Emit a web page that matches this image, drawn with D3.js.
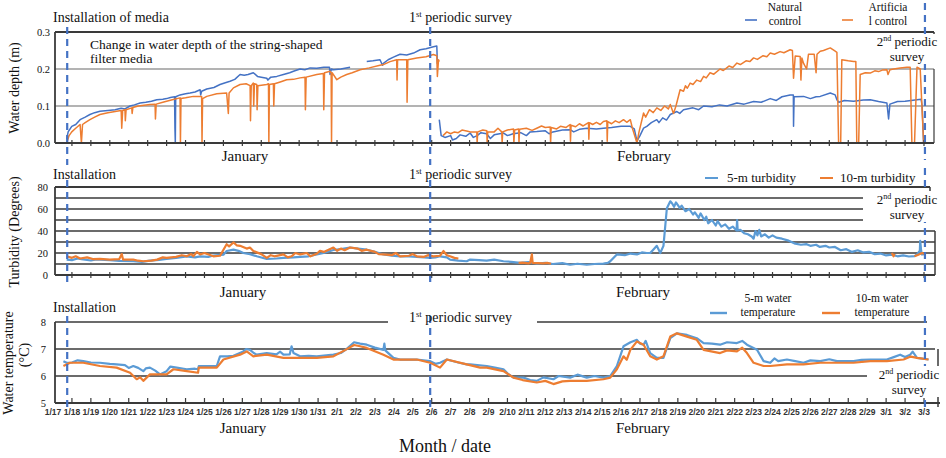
<!DOCTYPE html>
<html><head><meta charset="utf-8">
<script src="https://cdn.jsdelivr.net/npm/d3@7"></script>
<style>
body{margin:0;background:#fff;}
text{font-family:"Liberation Serif","Times New Roman",serif;fill:#111;}
.tk{font-family:"Liberation Sans Narrow","Liberation Sans",Arial,sans-serif;font-size:8.5px;font-weight:bold;fill:#333;}
</style></head>
<body><svg id="c" width="946" height="458"></svg>
<script>
// ---------- DATA ----------
const dateLabels = ["1/17","1/18","1/19","1/20","1/21","1/22","1/23","1/24","1/25","1/26","1/27","1/28","1/29","1/30","1/31",
 "2/1","2/2","2/3","2/4","2/5","2/6","2/7","2/8","2/9","2/10","2/11","2/12","2/13","2/14","2/15","2/16","2/17","2/18","2/19",
 "2/20","2/21","2/22","2/23","2/24","2/25","2/26","2/27","2/28","2/29","3/1","3/2","3/3"];
const surveyDays = [0.75, 19.92, 46.05]; // installation, 1st, 2nd periodic survey (day index from 1/17)

// Water depth (m): [day, value]; null = gap
const depthNatural = [[0.72,0.01],[0.8,0.03],[0.99,0.045],[1.2,0.05],[1.43,0.063],[1.7,0.07],[1.95,0.077],[2.2,0.082],[2.48,0.086],[2.9,0.088],[3.28,0.09],[3.6,0.094],[3.8,0.092],[4.07,0.1],[4.3,0.103],[4.6,0.108],[4.9,0.11],[5.2,0.113],[5.48,0.117],[5.8,0.118],[6.0,0.12],[6.2,0.123],[6.42,0.125],[6.44,0.04],[6.46,0.0],[6.48,0.125],[6.71,0.13],[7.0,0.133],[7.24,0.135],[7.5,0.138],[7.77,0.144],[7.8,0.13],[7.85,0.14],[8.12,0.146],[8.5,0.15],[8.82,0.158],[9.1,0.163],[9.35,0.167],[9.6,0.172],[9.88,0.185],[10.1,0.183],[10.3,0.185],[10.58,0.19],[10.8,0.18],[11.0,0.178],[11.29,0.175],[11.35,0.17],[11.5,0.178],[11.82,0.18],[12.17,0.185],[12.5,0.19],[12.7,0.194],[13.05,0.2],[13.3,0.198],[13.58,0.203],[13.93,0.202],[14.3,0.205],[14.6,0.205],[14.63,0.185],[14.7,0.2],[14.81,0.198],[15.2,0.2],[15.69,0.205],
 null,[16.57,0.22],[16.9,0.222],[17.27,0.225],[17.4,0.21],[17.45,0.215],[17.7,0.225],[17.98,0.232],[18.33,0.24],[18.68,0.238],[19.04,0.243],[19.39,0.252],[19.7,0.255],[20.09,0.26],[20.27,0.262],[20.3,0.215],[20.36,0.22],
 null,[20.4,0.063],[20.5,0.02],[20.7,0.015],[21.0,0.02],[21.1,0.008],[21.3,0.012],[21.5,0.022],[21.8,0.018],[22.03,0.027],[22.2,0.015],[22.4,0.02],[22.6,0.028],[22.9,0.025],[23.1,0.012],[23.3,0.022],[23.8,0.027],[24.0,0.02],[24.3,0.025],[24.7,0.028],[25.0,0.02],[25.2,0.03],[25.55,0.031],[26.0,0.033],[26.2,0.025],[26.4,0.03],[26.9,0.035],[27.31,0.036],[27.5,0.03],[27.8,0.037],[28.2,0.04],[28.7,0.038],[29.07,0.04],[29.5,0.042],[30.0,0.045],[30.49,0.045],[30.7,0.038],[30.84,0.005],[31.0,0.02],[31.19,0.04],[31.36,0.045],[31.6,0.055],[31.89,0.063],[32.0,0.055],[32.2,0.068],[32.4,0.062],[32.6,0.077],[32.95,0.085],[33.1,0.08],[33.3,0.09],[33.8,0.095],[34.1,0.09],[34.36,0.1],[34.8,0.098],[35.2,0.103],[35.6,0.1],[36.12,0.108],[36.5,0.105],[37.0,0.112],[37.4,0.11],[37.88,0.12],[38.2,0.115],[38.5,0.125],[38.93,0.13],[39.1,0.13],[39.11,0.045],[39.14,0.125],[39.64,0.126],[40.0,0.12],[40.3,0.125],[40.52,0.126],[41.05,0.135],[41.31,0.13],[41.4,0.117],[41.5,0.11],[41.8,0.115],[42.28,0.113],[42.8,0.116],[43.16,0.117],[43.6,0.112],[44.04,0.108],[44.13,0.065],[44.2,0.105],[44.6,0.112],[45.0,0.113],[45.63,0.117],[45.85,0.118],[45.9,0.1],[45.98,0.0]];

const depthArtificial = [[0.72,0.0],[0.85,0.02],[0.99,0.03],[1.2,0.04],[1.43,0.05],[1.5,0.0],[1.56,0.05],[1.7,0.055],[1.95,0.063],[2.2,0.07],[2.48,0.077],[2.9,0.082],[3.36,0.086],[3.6,0.088],[3.63,0.04],[3.68,0.088],[3.8,0.09],[3.82,0.06],[3.86,0.09],[4.16,0.095],[4.18,0.08],[4.22,0.096],[4.5,0.1],[5.12,0.104],[5.39,0.105],[5.41,0.065],[5.45,0.105],[5.8,0.11],[6.0,0.113],[6.3,0.117],[6.71,0.122],[6.73,0.0],[6.76,0.12],[7.0,0.122],[7.41,0.126],[7.85,0.126],[7.87,0.0],[7.9,0.12],[8.12,0.126],[8.65,0.133],[9.17,0.135],[9.26,0.08],[9.3,0.135],[9.53,0.149],[9.88,0.158],[10.2,0.16],[10.41,0.155],[10.43,0.06],[10.47,0.155],[10.58,0.162],[10.6,0.1],[10.64,0.16],[10.76,0.158],[10.78,0.09],[10.82,0.155],[11.29,0.158],[11.38,0.16],[11.4,0.0],[11.43,0.158],[11.64,0.16],[11.66,0.1],[11.7,0.16],[12.0,0.165],[12.34,0.171],[12.7,0.172],[13.05,0.176],[13.31,0.178],[13.33,0.09],[13.37,0.178],[13.93,0.185],[14.28,0.188],[14.3,0.09],[14.34,0.19],[14.63,0.194],[14.69,0.19],[14.71,0.0],[14.74,0.19],[14.99,0.171],[15.2,0.178],[15.51,0.185],[15.8,0.19],[16.22,0.198],[16.7,0.203],[17.27,0.21],[17.45,0.212],[17.8,0.22],[18.15,0.225],[18.17,0.17],[18.2,0.225],[18.68,0.225],[18.7,0.11],[18.74,0.225],[19.21,0.23],[19.7,0.233],[20.09,0.239],[20.27,0.236],[20.3,0.18],[20.36,0.225],[20.4,0.22],
 null,[20.6,0.02],[20.8,0.03],[21.0,0.025],[21.2,0.03],[21.4,0.028],[21.6,0.035],[21.9,0.032],[22.03,0.03],[22.38,0.03],[22.4,0.0],[22.43,0.03],[22.7,0.035],[22.91,0.033],[22.93,0.0],[22.96,0.03],[23.3,0.03],[23.5,0.04],[23.7,0.03],[23.72,0.0],[23.75,0.03],[24.0,0.035],[24.32,0.038],[24.34,0.0],[24.38,0.035],[24.59,0.038],[24.61,0.0],[24.64,0.037],[25.0,0.04],[25.3,0.034],[25.55,0.04],[25.8,0.046],[26.0,0.042],[26.26,0.043],[26.28,0.0],[26.31,0.042],[26.6,0.038],[26.8,0.045],[27.1,0.042],[27.31,0.05],[27.33,0.005],[27.36,0.048],[27.6,0.044],[27.8,0.052],[28.0,0.046],[28.28,0.055],[28.3,0.01],[28.33,0.055],[28.5,0.05],[28.7,0.056],[28.9,0.05],[29.07,0.058],[29.25,0.06],[29.27,0.005],[29.3,0.058],[29.5,0.052],[29.7,0.06],[29.9,0.055],[30.13,0.063],[30.3,0.056],[30.49,0.063],[30.6,0.04],[30.84,0.0],[30.95,0.03],[31.19,0.081],[31.3,0.07],[31.5,0.09],[31.7,0.082],[31.89,0.095],[32.1,0.088],[32.3,0.1],[32.5,0.092],[32.6,0.104],[32.77,0.08],[32.9,0.1],[33.12,0.144],[33.3,0.14],[33.4,0.155],[33.5,0.148],[33.65,0.162],[33.8,0.158],[34.0,0.17],[34.2,0.166],[34.36,0.18],[34.5,0.176],[34.7,0.19],[34.9,0.186],[35.23,0.2],[35.4,0.196],[35.7,0.208],[35.9,0.204],[36.12,0.216],[36.3,0.212],[36.6,0.222],[36.8,0.22],[37.0,0.23],[37.2,0.226],[37.5,0.236],[37.7,0.233],[37.88,0.243],[38.1,0.24],[38.4,0.247],[38.6,0.244],[38.93,0.252],[39.05,0.25],[39.11,0.175],[39.2,0.235],[39.46,0.234],[39.5,0.17],[39.55,0.23],[39.64,0.215],[39.8,0.2],[39.9,0.24],[40.2,0.24],[40.3,0.19],[40.35,0.24],[40.52,0.248],[40.69,0.25],[41.05,0.257],[41.31,0.248],[41.4,0.245],[41.49,0.0],[41.6,0.0],[41.66,0.225],[42.0,0.222],[42.28,0.22],[42.4,0.22],[42.45,0.0],[42.55,0.0],[42.63,0.185],[42.9,0.19],[43.16,0.189],[43.4,0.195],[43.6,0.193],[43.8,0.197],[44.04,0.198],[44.1,0.185],[44.2,0.198],[44.4,0.2],[44.74,0.203],[45.1,0.205],[45.27,0.205],[45.36,0.0],[45.5,0.0],[45.63,0.205],[45.8,0.2],[45.98,0.0]];

// Turbidity (degrees)
const turb5m = [[0.72,14],[1.0,13.5],[1.3,15],[1.5,14.5],[2.0,13.2],[2.3,14.2],[2.48,14],[3.0,13.5],[3.5,12.8],[4.24,12.5],[4.7,12],[5.12,13],[5.6,13.8],[6.0,14.6],[6.5,15.5],[7.06,17],[7.5,16],[7.77,17],[8.2,16.5],[8.47,17.7],[9.0,18.5],[9.17,21.8],[9.53,23],[9.8,22],[10.05,20],[10.4,19],[10.76,17],[11.29,14.6],[11.8,15],[12.17,15.6],[12.7,16],[13.05,16.5],[13.5,17],[13.93,18.7],[14.3,20],[14.81,22.7],[15.2,23.5],[15.69,25],[16.1,24],[16.57,23],[17.0,21],[17.45,18.7],[17.9,17.5],[18.33,17],[18.8,16.8],[19.21,16.5],[19.6,16],[19.92,15.6],[20.2,16],[20.44,17],[20.8,16],[20.97,14],[21.4,13],[21.85,12.5],[22.03,14],[22.5,13.5],[22.9,13],[23.3,14],[23.79,12.5],[24.2,12],[24.67,11],[25.1,11.8],[25.55,10.3],[26.0,11],[26.4,10],[26.9,10.8],[27.31,9.3],[27.7,10.2],[28.19,9.3],[28.6,10],[29.07,10.3],[29.3,11],[29.43,12.5],[29.78,18.7],[30.2,18],[30.5,19.5],[30.84,18.7],[31.1,20.5],[31.36,20],[31.54,20],[31.7,23],[31.89,26.5],[32.07,20],[32.24,26.5],[32.42,60.7],[32.6,67],[32.7,65],[32.8,62],[32.9,66],[33.1,61],[33.2,63],[33.4,58],[33.6,60],[33.8,55],[33.9,57],[34.1,52],[34.2,56],[34.4,50],[34.5,53],[34.6,47],[34.8,50],[35.0,45],[35.1,49],[35.3,44],[35.5,46],[35.7,42],[35.9,44],[36.1,40.5],[36.13,50],[36.16,40.5],[36.3,41],[36.5,38],[36.7,37],[36.9,35],[37.0,33],[37.1,40],[37.2,36],[37.3,41],[37.4,35],[37.6,37],[37.8,34],[38.0,36],[38.2,34],[38.5,33],[38.8,31.5],[39.0,30],[39.2,28.5],[39.5,27.5],[39.8,28],[40.0,26.5],[40.3,27.5],[40.5,25.5],[40.8,26.5],[41.0,25],[41.3,25.5],[41.6,22.5],[41.9,23.5],[42.2,21],[42.5,22.5],[42.8,20.5],[43.1,21],[43.4,19],[43.7,19.5],[44.0,17.8],[44.3,18.5],[44.6,17],[44.9,17.8],[45.2,16.8],[45.5,17.2],[45.63,18.7],[45.78,22],[45.8,31],[45.85,22],[45.89,18.7],[46.06,19]];
const turb10m = [[0.72,17],[1.0,15.6],[1.2,17],[1.43,15],[1.8,16],[2.1,14.5],[2.48,14.6],[3.0,14],[3.5,14.5],[3.63,19],[3.7,14],[4.24,14],[4.5,13],[4.77,12.5],[5.2,13],[5.5,14],[5.8,16],[6.0,15.6],[6.5,16.5],[6.8,18],[7.06,17],[7.3,19],[7.41,17],[7.6,21],[7.77,18.7],[8.0,20],[8.47,17],[8.82,17.5],[9.17,28],[9.3,26],[9.53,29.6],[9.7,27],[9.88,26.5],[10.23,24],[10.4,25],[10.58,21.8],[11.0,19],[11.29,15.6],[11.5,18],[11.7,17],[12.17,18.7],[12.4,16],[12.6,17],[12.8,20],[13.05,18.7],[13.4,20],[13.6,17],[13.93,19.3],[14.1,22],[14.3,21],[14.81,25],[15.0,22],[15.2,24],[15.4,22.5],[15.69,25],[16.1,24],[16.3,22],[16.57,23],[17.0,21],[17.2,19],[17.45,18.7],[17.9,18],[18.1,20],[18.33,17],[18.8,17.5],[19.0,19],[19.21,17],[19.6,16.5],[19.8,18],[20.09,17],[20.44,17.5],[20.62,21.8],[20.8,18],[20.97,17],[21.2,15.6],[21.41,15],
 null,[24.59,11],[24.8,11.2],[25.1,10.5],[25.2,11],[25.29,18.7],[25.33,11],[25.6,10.8],[25.9,10.5],[26.1,11],[26.3,10.2],
 null,[44.3,20],[44.39,17],[44.45,19],
 null,[45.5,17],[45.7,18.5],[45.9,20],[46.06,19]];

// Water temperature (°C)
const temp5m = [[0.55,6.55],[0.72,6.49],[1.0,6.5],[1.3,6.58],[1.6,6.55],[2.0,6.5],[2.48,6.49],[3.0,6.45],[3.36,6.43],[3.8,6.4],[4.0,6.3],[4.24,6.37],[4.5,6.3],[4.77,6.18],[4.9,6.28],[5.12,6.31],[5.4,6.2],[5.65,6.06],[6.0,6.18],[6.2,6.35],[6.53,6.31],[7.06,6.25],[7.5,6.27],[7.66,6.25],[7.7,6.37],[8.3,6.37],[8.65,6.37],[8.82,6.73],[9.2,6.73],[9.53,6.75],[10.05,6.91],[10.2,7.0],[10.41,6.97],[10.6,6.85],[10.76,6.79],[11.29,6.85],[11.8,6.8],[12.0,6.9],[12.17,6.79],[12.5,6.8],[12.6,7.1],[12.7,6.85],[13.05,6.73],[13.5,6.75],[13.93,6.73],[14.81,6.79],[15.2,6.85],[15.5,7.0],[15.9,7.25],[16.22,7.2],[16.57,7.16],[17.0,7.05],[17.45,6.97],[17.5,7.2],[17.55,6.95],[17.98,6.67],[18.33,6.61],[19.21,6.61],[19.92,6.55],[20.2,6.45],[20.44,6.49],[20.8,6.61],[21.4,6.5],[21.85,6.43],[22.03,6.43],[22.91,6.37],[23.4,6.3],[23.79,6.25],[24.0,6.1],[24.32,5.94],[24.85,5.94],[25.2,5.85],[25.55,5.82],[25.9,5.95],[26.43,5.88],[26.7,6.0],[27.31,5.94],[27.7,6.05],[28.19,5.94],[28.6,6.0],[29.07,5.94],[29.43,6.0],[29.78,6.37],[30.13,7.1],[30.5,7.25],[30.84,7.34],[31.0,7.2],[31.19,7.16],[31.3,7.3],[31.54,6.85],[31.89,6.67],[32.24,6.67],[32.6,7.4],[32.95,7.58],[33.48,7.52],[34.0,7.4],[34.36,7.22],[34.8,7.2],[35.23,7.16],[35.6,7.25],[36.12,7.22],[36.4,7.3],[36.65,7.16],[37.18,6.97],[37.53,6.55],[37.88,6.49],[38.1,6.65],[38.3,6.55],[38.76,6.61],[39.2,6.55],[39.64,6.49],[40.0,6.58],[40.52,6.55],[41.0,6.62],[41.4,6.55],[42.28,6.55],[42.7,6.6],[43.16,6.61],[44.04,6.61],[44.4,6.7],[44.74,6.79],[45.0,6.7],[45.27,6.79],[45.4,6.9],[45.63,6.67],[46.24,6.61]];
const temp10m = [[0.55,6.37],[0.9,6.49],[1.6,6.49],[2.48,6.37],[3.36,6.31],[4.07,6.12],[4.42,5.88],[4.6,5.95],[4.77,5.82],[5.12,6.06],[6.0,6.06],[6.36,6.25],[7.06,6.18],[7.66,6.12],[7.7,6.31],[8.65,6.31],[9.0,6.61],[9.88,6.79],[10.23,6.91],[10.58,6.73],[11.29,6.79],[12.17,6.67],[13.05,6.67],[13.93,6.67],[14.81,6.73],[15.4,6.95],[15.9,7.15],[16.22,7.1],[16.57,7.04],[17.45,6.79],[17.98,6.61],[19.21,6.61],[19.92,6.49],[20.44,6.31],[20.8,6.61],[21.85,6.43],[22.56,6.31],[22.91,6.31],[23.79,6.18],[24.32,5.94],[24.8,5.85],[25.55,5.76],[26.0,5.82],[26.43,5.7],[26.9,5.8],[27.31,5.82],[28.19,5.82],[29.07,5.88],[29.43,5.94],[29.78,6.25],[30.13,6.73],[30.3,6.6],[30.49,6.97],[30.84,7.28],[31.19,7.16],[31.54,6.73],[31.89,6.61],[32.24,6.73],[32.6,7.46],[32.95,7.58],[33.48,7.46],[34.0,7.34],[34.36,6.97],[35.23,6.85],[35.6,6.95],[36.12,6.91],[36.4,7.05],[36.65,6.85],[37.0,6.49],[37.53,6.37],[37.88,6.37],[38.76,6.43],[39.64,6.43],[40.52,6.49],[41.4,6.49],[42.28,6.49],[43.16,6.55],[44.04,6.55],[44.92,6.61],[45.3,6.72],[45.63,6.67],[46.24,6.61]];

const depthTicks = [0,0.1,0.2,0.3];
const turbTicks = [0,20,40,60,80];
const tempTicks = [5,6,7,8];

// ---------- DRAW ----------
const svg = d3.select("#c");
const x = d3.scaleLinear().domain([0,46]).range([53,924]);
const dark = "#3a3a3a", grey = "#9a9a9a";
const cBlueDark = "#4472C4", cBlue = "#5B9BD5", cOrange = "#ED7D31";
const L = 55;

function hline(y, x1, x2, col, w){ svg.append("line").attr("x1",x1).attr("x2",x2).attr("y1",y).attr("y2",y).attr("stroke",col).attr("stroke-width",w); }
function vline(xx, y1, y2, col, w){ svg.append("line").attr("x1",xx).attr("x2",xx).attr("y1",y1).attr("y2",y2).attr("stroke",col).attr("stroke-width",w); }
function txt(s, xx, yy, size, anchor){ return svg.append("text").attr("x",xx).attr("y",yy).attr("font-size",size).attr("text-anchor",anchor||"start").text(s); }
function supText(parts, xx, yy, size, anchor){
  const t = svg.append("text").attr("x",xx).attr("y",yy).attr("font-size",size).attr("text-anchor",anchor||"start");
  t.append("tspan").text(parts[0]);
  t.append("tspan").attr("font-size",size*0.62).attr("dy",-size*0.38).text(parts[1]);
  t.append("tspan").attr("dy",size*0.38).text(parts[2]);
  return t;
}
function series(data, y, col, w){
  const line = d3.line().defined(d=>d!==null).x(d=>x(d[0])).y(d=>y(d[1]));
  svg.append("path").attr("d", line(data)).attr("fill","none").attr("stroke",col).attr("stroke-width",w).attr("stroke-linejoin","round");
}
function dashed(xx, y1, y2){
  svg.append("line").attr("x1",xx).attr("x2",xx).attr("y1",y1).attr("y2",y2).attr("stroke",cBlueDark).attr("stroke-width",2.2).attr("stroke-dasharray","7,5");
}
function dayTicks(y, up, down){
  dateLabels.forEach((l,i)=>{ if(i>0) vline(x(i), y-up, y+down, dark, 1.2); });
}
function yTitle(s, cx, cy, size){
  svg.append("text").attr("transform",`translate(${cx},${cy}) rotate(-90)`).attr("text-anchor","middle").attr("font-size",size).text(s);
}
function whiteBox(x1,y1,w,h){ svg.append("rect").attr("x",x1).attr("y",y1).attr("width",w).attr("height",h).attr("fill","#fff"); }

// ===== Panel 1: Water depth =====
const y1 = d3.scaleLinear().domain([0,0.3]).range([143,32]);
[0.1,0.2].forEach(v=>hline(y1(v), L, 934, grey, 1.6));
hline(y1(0.3), L, 934, dark, 1.8);
vline(934, y1(0.3), y1(0.3)+5, dark, 1.5);
vline(934, y1(0.2), y1(0), dark, 1.2);
vline(L, y1(0.3), y1(0), dark, 1.8);
series(depthNatural, y1, cBlueDark, 1.5);
series(depthArtificial, y1, cOrange, 1.5);
hline(y1(0), L, 934, dark, 1.8);
dayTicks(y1(0), 3, 3);
depthTicks.forEach(v=>txt(d3.format(".1f")(v), 50, y1(v)+4, 10.5, "end"));
yTitle("Water depth (m)", 19, 88, 14);
surveyDays.forEach((d,i)=>dashed(x(d), i==2?3:27, i==2?160:165));
txt("Installation of media", 53, 22, 14);
supText(["1","st"," periodic survey"], 409, 22, 14);
txt("Change in water depth of the string-shaped", 90, 49, 13.5);
txt("filter media", 90, 63, 13.5);
whiteBox(872, 34, 72, 30);
supText(["2","nd"," periodic"], 907, 46, 13, "middle");
txt("survey", 907, 61, 13, "middle");
// legend 1
hline(20, 745, 757, cBlueDark, 1.6);
txt("Natural", 785, 11, 11.5, "middle"); txt("control", 785, 24.5, 11.5, "middle");
hline(20, 842, 853, cOrange, 1.6);
txt("Artificia", 888, 11, 11.5, "middle"); txt("l control", 888, 24.5, 11.5, "middle");
txt("January", 245, 161, 15, "middle");
txt("February", 644, 161, 15, "middle");

// ===== Panel 2: Turbidity =====
const y2 = d3.scaleLinear().domain([0,80]).range([275,187]);
d3.range(10,80,10).forEach(v=>hline(y2(v), L, (v>=50)?863:935, dark, 1.6));
hline(y2(80), L, 930, dark, 1.8);
vline(930, y2(80), y2(80)+5, dark, 1.5);
vline(935, y2(40), y2(0), dark, 1.5);
vline(L, y2(80), y2(0), dark, 1.8);
series(turb5m, y2, cBlue, 2.2);
series(turb10m, y2, cOrange, 2.2);
hline(y2(0), L, 935, dark, 1.8);
dayTicks(y2(0), 3, 3);
turbTicks.forEach(v=>txt(String(v), 48, y2(v)+4, 10.5, "end"));
yTitle("Turbidity (Degrees)", 19, 232, 14);
surveyDays.forEach((d,i)=>dashed(x(d), i==2?168:180, 282));
txt("Installation", 53, 179, 14);
supText(["1","st"," periodic survey"], 409, 179, 14);
whiteBox(872, 191, 72, 31);
supText(["2","nd"," periodic"], 907, 204, 13, "middle");
txt("survey", 907, 219, 13, "middle");
hline(178, 705, 718, cBlue, 2);
txt("5-m turbidity", 727, 182, 13);
hline(178, 820, 833, cOrange, 2);
txt("10-m turbidity", 840, 182, 13);
txt("January", 243, 297, 15, "middle");
txt("February", 643, 297, 15, "middle");

// ===== Panel 3: Water temperature =====
const y3 = d3.scaleLinear().domain([5,8]).range([403,322]);
hline(y3(8), L, 388, dark, 1.6);
hline(y3(8), 537, 927, dark, 1.6);
hline(y3(7), L, 935, dark, 1.6);
hline(y3(6), L, 867, dark, 1.6);
vline(938, y3(7), y3(5)+4, dark, 1.5);
vline(L, y3(8), y3(5), dark, 1.8);
series(temp5m, y3, cBlue, 2.2);
series(temp10m, y3, cOrange, 2.2);
hline(y3(5), L, 940, dark, 1.8);
dayTicks(y3(5), 5, 0);
svg.append("g").selectAll("text").data(dateLabels).join("text")
  .attr("class","tk").attr("x",(d,i)=>x(i)).attr("y",415).attr("text-anchor","middle").text(d=>d);
tempTicks.forEach(v=>txt(String(v), 46, y3(v)+4, 10.5, "end"));
yTitle("Water temperature", 13, 363, 14);
yTitle("(°C)", 29, 355, 14);
surveyDays.forEach((d,i)=>dashed(x(d), 316, 410));
txt("Installation", 53, 312, 14);
supText(["1","st"," periodic survey"], 409, 322, 14);
whiteBox(875, 366, 70, 31);
supText(["2","nd"," periodic"], 909, 379, 13, "middle");
txt("survey", 909, 394, 13, "middle");
hline(313, 710, 727, cBlue, 2.4);
txt("5-m water", 768, 302, 11.5, "middle"); txt("temperature", 768, 316, 11.5, "middle");
hline(313, 822, 840, cOrange, 2.4);
txt("10-m water", 882, 302, 11.5, "middle"); txt("temperature", 882, 316, 11.5, "middle");
txt("January", 243, 433, 15, "middle");
txt("February", 643, 433, 15, "middle");
txt("Month / date", 445, 452, 18, "middle");
</script></body></html>
